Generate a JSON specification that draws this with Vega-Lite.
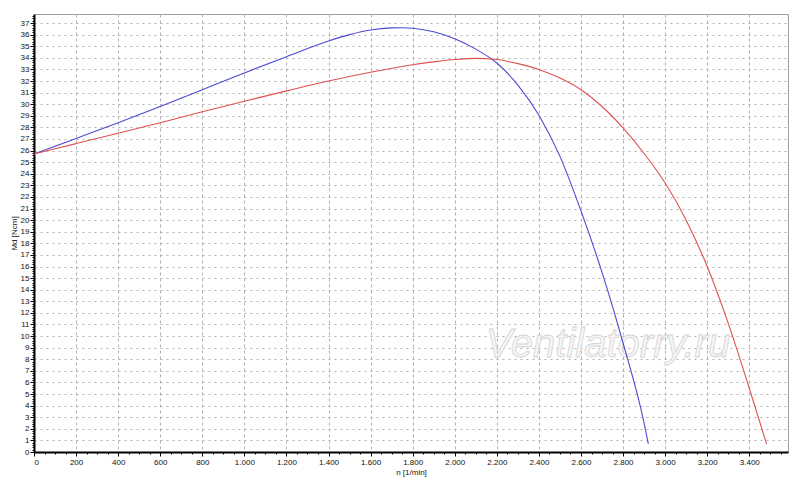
{
  "$schema": "https://vega.github.io/schema/vega-lite/v6.json",
  "width": 754,
  "height": 438,
  "autosize": {"type": "none"},
  "padding": {"left": 34, "top": 14, "right": 12, "bottom": 37},
  "background": "white",
  "config": {
    "view": {"stroke": "#a0a0a0", "strokeWidth": 1},
    "axis": {
      "labelFont": "Liberation Sans",
      "titleFont": "Liberation Sans",
      "labelFontSize": 8,
      "titleFontSize": 8,
      "titleFontWeight": "normal",
      "labelColor": "#111",
      "titleColor": "#111",
      "domainColor": "#000",
      "tickColor": "#000"
    }
  },
  "data": {
    "values": [
      {"curve": "blue", "n": 0, "md": 25.7},
      {"curve": "blue", "n": 200, "md": 27.05},
      {"curve": "blue", "n": 400, "md": 28.4},
      {"curve": "blue", "n": 600, "md": 29.8},
      {"curve": "blue", "n": 800, "md": 31.25},
      {"curve": "blue", "n": 1000, "md": 32.7},
      {"curve": "blue", "n": 1200, "md": 34.1},
      {"curve": "blue", "n": 1400, "md": 35.45},
      {"curve": "blue", "n": 1500, "md": 36.0},
      {"curve": "blue", "n": 1600, "md": 36.4},
      {"curve": "blue", "n": 1700, "md": 36.58},
      {"curve": "blue", "n": 1750, "md": 36.6},
      {"curve": "blue", "n": 1800, "md": 36.55},
      {"curve": "blue", "n": 1900, "md": 36.25},
      {"curve": "blue", "n": 2000, "md": 35.65},
      {"curve": "blue", "n": 2100, "md": 34.75},
      {"curve": "blue", "n": 2200, "md": 33.55},
      {"curve": "blue", "n": 2300, "md": 31.65},
      {"curve": "blue", "n": 2400, "md": 29.05},
      {"curve": "blue", "n": 2500, "md": 25.5},
      {"curve": "blue", "n": 2600, "md": 20.8},
      {"curve": "blue", "n": 2700, "md": 15.5},
      {"curve": "blue", "n": 2800, "md": 9.4},
      {"curve": "blue", "n": 2900, "md": 2.5},
      {"curve": "blue", "n": 2920, "md": 0.7},
      {"curve": "red", "n": 0, "md": 25.7},
      {"curve": "red", "n": 200, "md": 26.6},
      {"curve": "red", "n": 400, "md": 27.5},
      {"curve": "red", "n": 600, "md": 28.4},
      {"curve": "red", "n": 800, "md": 29.35},
      {"curve": "red", "n": 1000, "md": 30.25},
      {"curve": "red", "n": 1200, "md": 31.15},
      {"curve": "red", "n": 1400, "md": 32.0},
      {"curve": "red", "n": 1600, "md": 32.75},
      {"curve": "red", "n": 1800, "md": 33.4},
      {"curve": "red", "n": 1900, "md": 33.65},
      {"curve": "red", "n": 2000, "md": 33.85},
      {"curve": "red", "n": 2100, "md": 33.95},
      {"curve": "red", "n": 2200, "md": 33.85},
      {"curve": "red", "n": 2300, "md": 33.5},
      {"curve": "red", "n": 2400, "md": 33.0},
      {"curve": "red", "n": 2500, "md": 32.25},
      {"curve": "red", "n": 2600, "md": 31.25},
      {"curve": "red", "n": 2700, "md": 29.8},
      {"curve": "red", "n": 2800, "md": 27.95},
      {"curve": "red", "n": 2900, "md": 25.75},
      {"curve": "red", "n": 3000, "md": 23.2},
      {"curve": "red", "n": 3100, "md": 20.0},
      {"curve": "red", "n": 3200, "md": 16.0},
      {"curve": "red", "n": 3300, "md": 11.1},
      {"curve": "red", "n": 3400, "md": 5.5},
      {"curve": "red", "n": 3482, "md": 0.7}
    ]
  },
  "resolve": {"axis": {"x": "independent", "y": "independent"}},
  "layer": [
    {
      "mark": {"type": "point", "opacity": 0},
      "encoding": {
        "x": {
          "field": "n", "type": "quantitative",
          "scale": {"domain": [0, 3584], "nice": false, "zero": false},
          "axis": {"orient": "bottom", "tickCount": 72, "labels": false, "domain": false, "grid": false, "tickSize": 2, "title": null}
        },
        "y": {
          "field": "md", "type": "quantitative",
          "scale": {"domain": [0, 37.78], "nice": false, "zero": false},
          "axis": {"orient": "left", "tickCount": 190, "labels": false, "domain": false, "grid": false, "tickSize": 2, "title": null}
        }
      }
    },
    {
      "data": {"values": [{"n": 2728, "md": 9.2, "label": "Ventilatorry.ru"}]},
      "mark": {
        "type": "text",
        "font": "Liberation Sans",
        "fontStyle": "italic",
        "fontSize": 40,
        "fill": "#f6f6f6",
        "stroke": "#d4d4d4",
        "strokeWidth": 0.8,
        "align": "center",
        "baseline": "middle"
      },
      "encoding": {
        "x": {"field": "n", "type": "quantitative", "axis": null},
        "y": {"field": "md", "type": "quantitative", "axis": null},
        "text": {"field": "label"}
      }
    },
    {
      "mark": {"type": "line", "strokeWidth": 1.1, "interpolate": "monotone"},
      "encoding": {
        "x": {
          "field": "n", "type": "quantitative",
          "axis": {
            "orient": "bottom",
            "values": [0, 200, 400, 600, 800, 1000, 1200, 1400, 1600, 1800, 2000, 2200, 2400, 2600, 2800, 3000, 3200, 3400],
            "labelExpr": "replace(datum.label, ',', '.')",
            "grid": true, "gridDash": [3, 3], "gridColor": "#b0b0b0",
            "domainWidth": 2, "tickSize": 4, "labelPadding": 2,
            "title": "n [1/min]", "titlePadding": 2
          }
        },
        "y": {
          "field": "md", "type": "quantitative",
          "axis": {
            "orient": "left",
            "values": [0, 1, 2, 3, 4, 5, 6, 7, 8, 9, 10, 11, 12, 13, 14, 15, 16, 17, 18, 19, 20, 21, 22, 23, 24, 25, 26, 27, 28, 29, 30, 31, 32, 33, 34, 35, 36, 37],
            "grid": true, "gridDash": [2, 4], "gridColor": "#b0b0b0",
            "domainWidth": 2, "tickSize": 4, "labelPadding": 1,
            "title": "Md [Ncm]", "titlePadding": 2
          }
        },
        "color": {
          "field": "curve", "type": "nominal",
          "scale": {"domain": ["blue", "red"], "range": ["#4a4ad2", "#e05050"]},
          "legend": null
        }
      }
    }
  ]
}
